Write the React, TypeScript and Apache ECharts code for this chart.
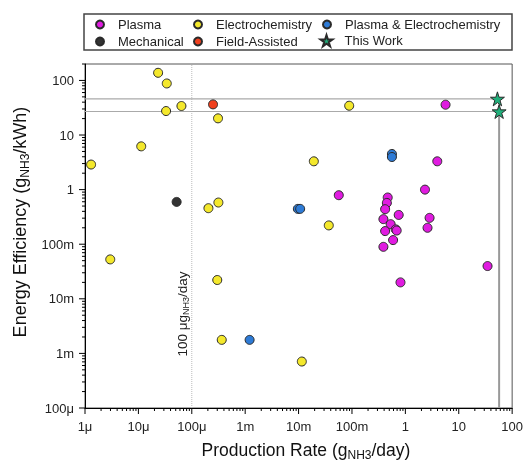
import React, { useEffect, useRef } from 'react';
import * as echarts from 'echarts';

const X_MIN = 1e-6;
const X_MAX = 100;
const Y_MIN = 1e-4;
const Y_MAX = 200;
const X_TICK_LABELS = ['1μ', '10μ', '100μ', '1m', '10m', '100m', '1', '10', '100'];
const Y_TICK_LABELS = ['100μ', '1m', '10m', '100m', '1', '10', '100'];

const plasma: [number, number][] = [
  [5.66, 35.9], [3.96, 3.3], [0.0566, 0.79], [2.33, 1.0],
  [0.467, 0.717], [0.45, 0.571], [0.418, 0.438], [0.75, 0.344],
  [0.388, 0.288], [0.53, 0.233], [0.66, 0.187], [0.688, 0.178],
  [0.418, 0.174], [0.589, 0.119], [0.388, 0.0896], [2.84, 0.304],
  [2.6, 0.2], [34.6, 0.0398], [0.81, 0.02],
];
const mechanical: [number, number][] = [[5.2e-5, 0.596]];
const electrochemistry: [number, number][] = [
  [2.34e-5, 138], [3.4e-5, 88], [3.3e-5, 27.5], [6.4e-5, 34],
  [3.1e-4, 20.2], [1.13e-5, 6.2], [1.3e-6, 2.88], [2.05e-4, 0.457],
  [3.15e-4, 0.58], [0.0887, 34.4], [0.0193, 3.3], [0.0368, 0.221],
  [0.0115, 7.1e-4], [2.97e-6, 0.0527], [3.0e-4, 0.0221], [3.64e-4, 1.77e-3],
];
const fieldAssisted: [number, number][] = [[2.5e-4, 36.4]];
const plasmaElectro: [number, number][] = [
  [0.56, 4.5], [0.56, 3.96], [0.0097, 0.444], [0.0107, 0.444], [1.21e-3, 1.77e-3],
];
const thisWork: [number, number][] = [[53, 46], [57, 27]];
const REFERENCE_RATE = 1e-4; // 100 μg/day

const STAR = 'path://M50,0 L61,35 L98,35 L68,57 L79,91 L50,70 L21,91 L32,57 L2,35 L39,35 Z';
const FONT = 'Liberation Sans, Arial, Helvetica, sans-serif';

function decadeLabel(v: number, min: number, labels: string[]) {
  const e = Math.log10(v);
  const r = Math.round(e);
  if (Math.abs(e - r) > 1e-6) return '';
  return labels[r - Math.round(Math.log10(min))] ?? '';
}

function tickValues(min: number, max: number, major: boolean) {
  const out: number[] = [];
  const e0 = Math.floor(Math.log10(min));
  const e1 = Math.ceil(Math.log10(max));
  for (let e = e0; e <= e1; e++) {
    const mults = major ? [1] : [2, 3, 4, 5, 6, 7, 8, 9];
    for (const m of mults) {
      const v = m * Math.pow(10, e);
      if (v >= min * 0.999999 && v <= max * 1.000001) out.push(v);
    }
  }
  return out;
}

function tickSeries(axis: 'x' | 'y', values: number[], len: number) {
  return {
    type: 'custom',
    silent: true,
    clip: false,
    z: 6,
    data: values.map((v) => (axis === 'x' ? [v, Y_MIN] : [X_MIN, v])),
    renderItem: (_p: any, api: any) => {
      const pt = api.coord([api.value(0), api.value(1)]);
      const shape = axis === 'x'
        ? { x1: pt[0], y1: pt[1], x2: pt[0], y2: pt[1] + len }
        : { x1: pt[0], y1: pt[1], x2: pt[0] - len, y2: pt[1] };
      return { type: 'line', shape, style: { stroke: '#000', lineWidth: 1 } };
    },
  };
}

function scatter(name: string, data: [number, number][], color: string, symbol = 'circle', size = 9) {
  return {
    name,
    type: 'scatter',
    data,
    symbol,
    symbolSize: size,
    z: 10,
    itemStyle: { color, borderColor: '#2a2a2a', borderWidth: 1, opacity: 1 },
  };
}

export default function App() {
  const ref = useRef<HTMLDivElement>(null);
  useEffect(() => {
    const chart = echarts.init(ref.current!, null, { renderer: 'svg' });
    const legendItems = [
      { name: 'Plasma', left: 95, top: 18, w: 8 },
      { name: 'Mechanical', left: 95, top: 35, w: 8 },
      { name: 'Electrochemistry', left: 193, top: 18, w: 8 },
      { name: 'Field-Assisted', left: 193, top: 35, w: 8 },
      { name: 'Plasma & Electrochemistry', left: 322, top: 18, w: 8 },
      { name: 'This Work', left: 319.5, top: 34, w: 12 },
    ];
    const option: any = {
      animation: false,
      textStyle: { fontFamily: FONT },
      grid: { left: 85, top: 64, right: 13, bottom: 56, show: true, borderColor: '#555', borderWidth: 1 },
      legend: legendItems.map((it) => ({
        data: [it.name],
        left: it.left,
        top: it.top,
        padding: 0,
        itemWidth: it.w,
        itemHeight: it.w,
        itemGap: 0,
        itemTextGap: 5,
        selectedMode: false,
        textStyle: {
          fontSize: 13, color: '#222', fontFamily: FONT,
          padding: [0, 0, 0, it.w === 8 ? 9 : 7],
        },
      })),
      xAxis: {
        type: 'log',
        min: X_MIN,
        max: X_MAX,
        interval: 1,
        splitLine: { show: false },
        axisTick: { show: false },
        axisLine: { lineStyle: { color: '#000', width: 1 } },
        axisLabel: {
          color: '#222', fontSize: 13, margin: 12,
          formatter: (v: number) => decadeLabel(v, X_MIN, X_TICK_LABELS),
        },
      },
      yAxis: {
        type: 'log',
        min: Y_MIN,
        max: Y_MAX,
        interval: 1,
        splitLine: { show: false },
        axisTick: { show: false },
        axisLine: { lineStyle: { color: '#000', width: 1 } },
        axisLabel: {
          color: '#222', fontSize: 13, margin: 11, showMaxLabel: false,
          formatter: (v: number) => decadeLabel(v, Y_MIN, Y_TICK_LABELS),
        },
      },
      graphic: [
        {
          type: 'rect', shape: { x: 84, y: 14, width: 428, height: 36 },
          style: { fill: 'none', stroke: '#444', lineWidth: 1.5 }, z: 1,
        },
        {
          type: 'text', x: 20, y: 222, rotation: Math.PI / 2,
          style: {
            text: 'Energy Efficiency (g{s|NH3}/kWh)', fontSize: 18, fontFamily: FONT, fill: '#111',
            align: 'center', verticalAlign: 'middle',
            rich: { s: { fontSize: 12, fontFamily: FONT, fill: '#111', padding: [9, 0, 0, 0] } },
          },
        },
        {
          type: 'text', x: 306, y: 450,
          style: {
            text: 'Production Rate (g{s|NH3}/day)', fontSize: 17.5, fontFamily: FONT, fill: '#111',
            align: 'center', verticalAlign: 'middle',
            rich: { s: { fontSize: 12, fontFamily: FONT, fill: '#111', padding: [9, 0, 0, 0] } },
          },
        },
        {
          type: 'text', x: 182, y: 314, rotation: Math.PI / 2,
          style: {
            text: '100 μg{s|NH3}/day', fontSize: 13.5, fontFamily: FONT, fill: '#222',
            align: 'center', verticalAlign: 'middle',
            rich: { s: { fontSize: 9, fontFamily: FONT, fill: '#222', padding: [7, 0, 0, 0] } },
          },
        },
      ],
      series: [
        {
          type: 'line', silent: true, symbol: 'none', z: 2,
          data: [[REFERENCE_RATE, Y_MIN], [REFERENCE_RATE, Y_MAX]],
          lineStyle: { color: '#bbb', width: 1, type: 'dotted' },
        },
        ...thisWork.map(([x, y]) => ({
          type: 'line', silent: true, symbol: 'none', z: 2,
          data: [[X_MIN, y], [x, y]],
          lineStyle: { color: '#aaa', width: 1.2 },
        })),
        {
          type: 'line', silent: true, symbol: 'none', z: 2,
          data: [[thisWork[1][0], Y_MIN], [thisWork[1][0], thisWork[1][1]]],
          lineStyle: { color: '#999', width: 2 },
        },
        scatter('Plasma', plasma, '#E01BE0'),
        scatter('Mechanical', mechanical, '#333333'),
        scatter('Electrochemistry', electrochemistry, '#F4E82C'),
        scatter('Field-Assisted', fieldAssisted, '#F0401E'),
        scatter('Plasma & Electrochemistry', plasmaElectro, '#2E7BD6'),
        scatter('This Work', thisWork, '#1FAF7A', STAR, 14),
        tickSeries('x', tickValues(X_MIN, X_MAX, true), 6),
        tickSeries('x', tickValues(X_MIN, X_MAX, false), 3),
        tickSeries('y', tickValues(Y_MIN, Y_MAX, true), 6),
        tickSeries('y', tickValues(Y_MIN, Y_MAX, false), 3),
      ],
    };
    chart.setOption(option);
    return () => chart.dispose();
  }, []);
  return <div ref={ref} style={{ position: 'fixed', left: 0, top: 0, width: 526, height: 464 }} />;
}
